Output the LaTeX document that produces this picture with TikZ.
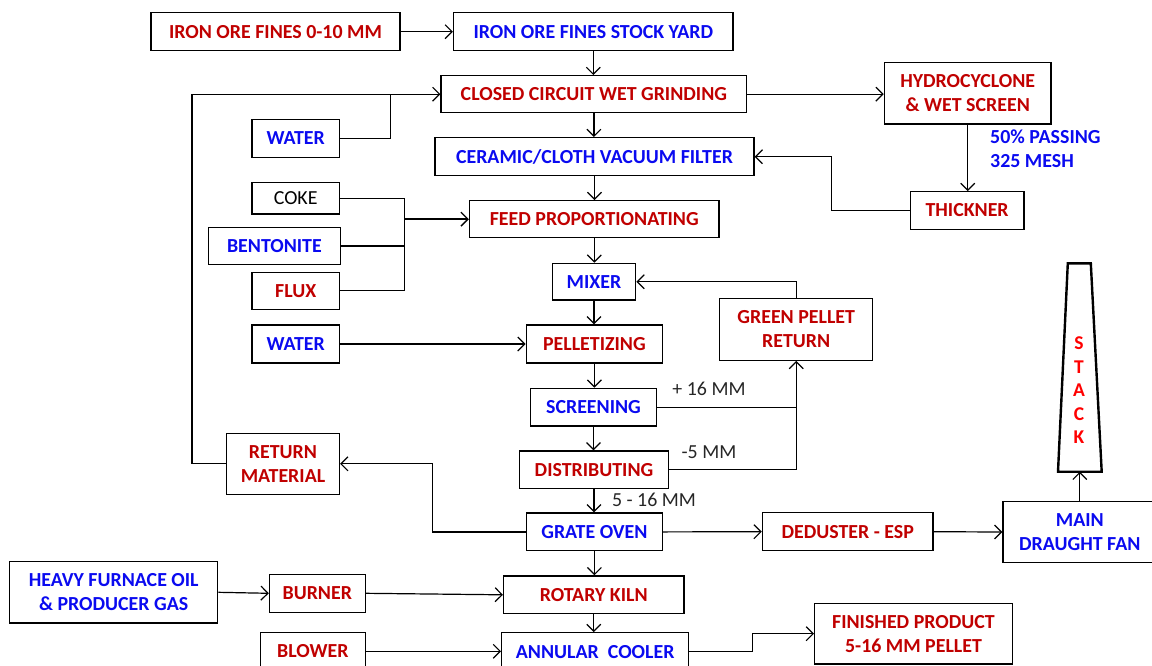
\documentclass[tikz,border=0pt]{standalone}
\usepackage{fontspec}
\setmainfont{Carlito}
\usetikzlibrary{arrows.meta,calc}
\definecolor{cred}{RGB}{192,0,0}
\definecolor{cblue}{RGB}{10,10,240}
\definecolor{sred}{RGB}{255,0,0}
\tikzset{
  box/.style={draw, line width=1.3pt, inner sep=0pt, align=center, font=\bfseries\fontsize{19.9}{24}\selectfont},
  rbox/.style={box, text=cred},
  bbox/.style={box, text=cblue},
  arr/.style={line width=1.2pt, -{Straight Barb[length=7pt,width=14pt,line width=1.2pt]}},
  ln/.style={line width=1.2pt},
  lab/.style={font=\fontsize{19.9}{24}\selectfont, text=black!85, inner sep=0pt},
  blab/.style={font=\bfseries\fontsize{19.9}{24}\selectfont, text=cblue, inner sep=0pt, anchor=west},
}
\begin{document}
\begin{tikzpicture}[x=1pt,y=-1pt]
\useasboundingbox (0,0) rectangle (1152,665);
% nodes
\node[rbox, minimum width=249pt, minimum height=38pt] (ore) at (275.5,31.7) {IRON ORE FINES 0-10 MM};
\node[bbox, minimum width=279.5pt, minimum height=38pt] (stock) at (593.3,31.7) {IRON ORE FINES STOCK YARD};
\node[rbox, minimum width=305.7pt, minimum height=37pt] (grind) at (593.9,94.2) {CLOSED CIRCUIT WET GRINDING};
\node[rbox, minimum width=166.7pt, minimum height=61.3pt] (hydro) at (967.7,93.3) {HYDROCYCLONE\\\& WET SCREEN};
\node[bbox, minimum width=87.7pt, minimum height=38pt] (water1) at (295.7,138.3) {WATER};
\node[bbox, minimum width=319pt, minimum height=38pt] (filter) at (594.5,156.7) {CERAMIC/CLOTH VACUUM FILTER};
\node[box, font=\fontsize{19.9}{24}\selectfont, minimum width=87.7pt, minimum height=31.7pt] (coke) at (295.7,198.2) {COKE};
\node[rbox, minimum width=113.8pt, minimum height=37.6pt] (thick) at (967.1,210.5) {THICKNER};
\node[rbox, minimum width=249.4pt, minimum height=37pt] (feed) at (594.3,219.2) {FEED PROPORTIONATING};
\node[bbox, minimum width=131.6pt, minimum height=36.6pt] (bent) at (274.4,246) {BENTONITE};
\node[rbox, minimum width=87.7pt, minimum height=37pt] (flux) at (295.7,290.8) {FLUX};
\node[bbox, minimum width=83.6pt, minimum height=36.7pt] (mixer) at (594,281.7) {MIXER};
\node[rbox, minimum width=152.9pt, minimum height=62pt] (green) at (796.2,329.3) {GREEN PELLET\\RETURN};
\node[bbox, minimum width=87.7pt, minimum height=38pt] (water2) at (295.7,344) {WATER};
\node[rbox, minimum width=136.3pt, minimum height=38pt] (pellet) at (594.4,344) {PELLETIZING};
\node[bbox, minimum width=126.2pt, minimum height=37.7pt] (screen) at (593.5,407.2) {SCREENING};
\node[rbox, minimum width=148.6pt, minimum height=37.3pt] (dist) at (594,469.7) {DISTRIBUTING};
\node[rbox, minimum width=112.9pt, minimum height=61pt] (retmat) at (283,463.8) {RETURN\\MATERIAL};
\node[bbox, minimum width=136.3pt, minimum height=37.7pt] (grate) at (594.4,531.9) {GRATE OVEN};
\node[rbox, minimum width=170.6pt, minimum height=38pt] (dedust) at (847.7,531.7) {DEDUSTER - ESP};
\node[bbox, minimum width=153.6pt, minimum height=61.4pt] (fan) at (1079.8,532) {MAIN\\DRAUGHT FAN};
\node[bbox, minimum width=208.2pt, minimum height=61.3pt] (heavy) at (113.7,592.3) {HEAVY FURNACE OIL\\\& PRODUCER GAS};
\node[rbox, minimum width=95.7pt, minimum height=38pt] (burner) at (317.3,593.3) {BURNER};
\node[rbox, minimum width=180.4pt, minimum height=37.7pt] (kiln) at (593.8,594.8) {ROTARY KILN};
\node[rbox, minimum width=104.5pt, minimum height=38pt] (blower) at (312.9,651.3) {BLOWER};
\node[bbox, minimum width=187pt, minimum height=38pt] (cooler) at (595.2,651.7) {ANNULAR\ \ COOLER};
\node[rbox, minimum width=197.7pt, minimum height=60.7pt] (finished) at (913.5,633.7) {FINISHED PRODUCT\\5-16 MM PELLET};
% stack
\draw[line width=2.4pt, line join=miter] (1058,471.7) -- (1067.8,263.3) -- (1090.8,263.3) -- (1101.7,471.7) -- cycle;
\coordinate (stackbase) at (1079.8,471.7);
\node[font=\bfseries\fontsize{19.5}{23.5}\selectfont, text=sred, align=center, inner sep=0pt] (stack) at (1079,390.5) {S\\T\\A\\C\\K};
% labels
\node[blab] (pass1) at (990,136.7) {50\% PASSING};
\node[blab] (pass2) at (990,161.3) {325 MESH};
\node[lab] (p16) at (709,389.3) {+ 16 MM};
\node[lab] (m5) at (709,452.3) {-5 MM};
\node[lab] (r516) at (654,500) {5 - 16 MM};
% main trunk
\draw[arr] (stock.south) -- (stock.south |- grind.north);
\draw[arr] (grind.south) -- (grind.south |- filter.north);
\draw[arr] (filter.south) -- (filter.south |- feed.north);
\draw[arr] (feed.south) -- (feed.south |- mixer.north);
\draw[arr] (mixer.south) -- (mixer.south |- pellet.north);
\draw[arr] (pellet.south) -- (pellet.south |- screen.north);
\draw[arr] (screen.south) -- (screen.south |- dist.north);
\draw[arr] (dist.south) -- (dist.south |- grate.north);
\draw[arr] (grate.south) -- (grate.south |- kiln.north);
\draw[arr] (kiln.south) -- (kiln.south |- cooler.north);
% others
\draw[arr] (ore.east) -- (stock.west);
\draw[arr] (grind.east) -- (grind.east -| hydro.west);
\draw[arr] (hydro.south) -- (hydro.south |- thick.north);
\draw[arr] (thick.west) -- ++(-78,0) |- (filter.east);
\draw[ln] (water1.east) -- ++(50,0) |- (grind.west);
\draw[arr] (retmat.west) -- ++(-34,0) |- (grind.west);
\coordinate (bus) at (404.5,219.2);
\draw[ln] (coke.east) -| (bus);
\draw[ln] (flux.east) -| (bus);
\draw[ln] (bent.east) -- (bent.east -| bus);
\draw[line width=2.2pt, -{Straight Barb[length=7pt,width=14pt,line width=1.4pt]}] (bus) -- (feed.west);
\draw[arr] (green.north) |- (mixer.east);
\draw[arr] (water2.east) -- (pellet.west);
\draw[ln] (screen.east) -- (screen.east -| green.south);
\draw[arr] (dist.east) -| (green.south);
\draw[arr] (grate.east) -- (dedust.west);
\draw[arr] (dedust.east) -- (fan.west);
\draw[arr] (fan.north) -- (stackbase);
\draw[arr] (grate.west) -- ++(-93,0) |- (retmat.east);
\draw[arr] (heavy.east) -- (burner.west);
\draw[arr] (burner.east) -- (kiln.west);
\draw[arr] (blower.east) -- (blower.east -| cooler.west);
\draw[arr] (cooler.east) -- ++(63.5,0) |- (finished.west);
\end{tikzpicture}
\end{document}
